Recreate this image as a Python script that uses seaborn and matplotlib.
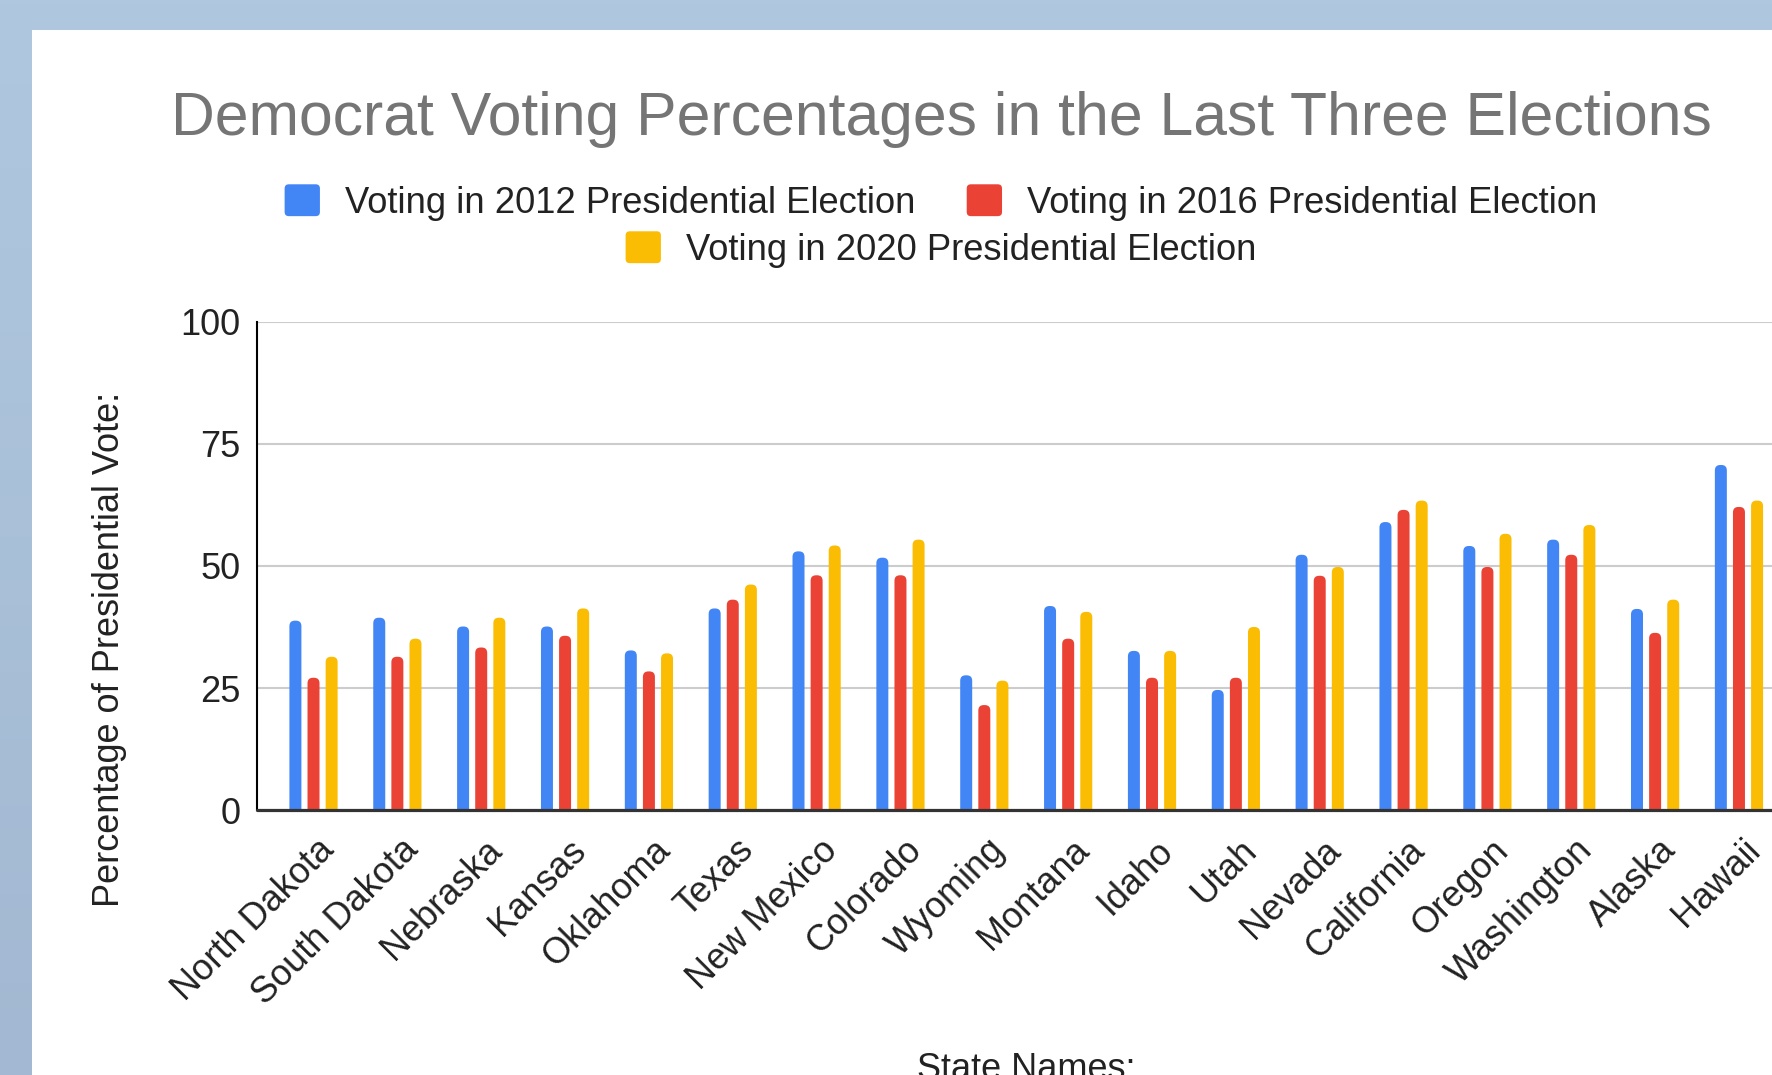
import numpy as np
import pandas as pd
import matplotlib
matplotlib.use("Agg")
import matplotlib.pyplot as plt
import seaborn as sns
from matplotlib.patches import FancyBboxPatch, Rectangle, Patch
from matplotlib.legend_handler import HandlerPatch
from matplotlib.transforms import ScaledTranslation
from matplotlib.colors import LinearSegmentedColormap

# ---------------- data ----------------
states = ["North Dakota", "South Dakota", "Nebraska", "Kansas", "Oklahoma", "Texas",
          "New Mexico", "Colorado", "Wyoming", "Montana", "Idaho", "Utah", "Nevada",
          "California", "Oregon", "Washington", "Alaska", "Hawaii"]
v2012 = [38.8, 39.4, 37.6, 37.6, 32.7, 41.3, 53.0, 51.7, 27.6, 41.8, 32.6, 24.6,
         52.3, 59.0, 54.1, 55.4, 41.2, 70.7]
v2016 = [27.1, 31.4, 33.3, 35.7, 28.4, 43.1, 48.1, 48.1, 21.5, 35.1, 27.1, 27.1,
         48.0, 61.5, 49.8, 52.3, 36.3, 62.1]
v2020 = [31.4, 35.1, 39.4, 41.3, 32.1, 46.2, 54.2, 55.4, 26.5, 40.6, 32.6, 37.5,
         49.8, 63.4, 56.6, 58.4, 43.1, 63.4]
series = ["Voting in 2012 Presidential Election",
          "Voting in 2016 Presidential Election",
          "Voting in 2020 Presidential Election"]
colors = ["#4285F4", "#EA4335", "#FBBC04"]
yticks = [0, 25, 50, 75, 100]
title = "Democrat Voting Percentages in the Last Three Elections"
ylabel = "Percentage of Presidential Vote:"
xlabel = "State Names:"

df = pd.DataFrame({
    "State": states * 3,
    "Election": [series[0]] * len(states) + [series[1]] * len(states) + [series[2]] * len(states),
    "Value": v2012 + v2016 + v2020,
})

# ---------------- figure ----------------
sns.set_theme(style="white")
plt.rcParams["font.family"] = ["Liberation Sans", "DejaVu Sans"]

W, H = 1772, 1075
fig = plt.figure(figsize=(W / 100, H / 100), dpi=100)

# background frame (light blue border, white page)
bg = fig.add_axes([0, 0, 1, 1], zorder=-10)
grad = np.linspace(0, 1, 256).reshape(-1, 1)
cmap = LinearSegmentedColormap.from_list("bgc", ["#AFC8DF", "#A3B8D2"])
bg.imshow(grad, aspect="auto", cmap=cmap, extent=[0, 1, 0, 1], origin="upper")
bg.add_patch(Rectangle((32 / W, 0), 1, 1 - 30 / H, facecolor="white", edgecolor="none"))
bg.set_xlim(0, 1)
bg.set_ylim(0, 1)
bg.axis("off")

# main axes (plot area continues past the right edge, as in the reference)
cat_px = 83.85
x_left = -0.674
x_right = 18.6
ax_left_px, ax_bottom_px, ax_h_px = 257, H - 810, 488
ax_w_px = (x_right - x_left) * cat_px
ax = fig.add_axes([ax_left_px / W, ax_bottom_px / H, ax_w_px / W, ax_h_px / H])

sns.barplot(data=df, x="State", y="Value", hue="Election", order=states,
            hue_order=series, palette=colors, width=0.648, gap=0.338,
            legend=False, ax=ax, saturation=1, errorbar=None)

ax.set_xlim(x_left, x_right)
ax.set_ylim(0, 100)

# rounded bar tops
px_x = ax_w_px / (x_right - x_left)
px_y = ax_h_px / 100.0
m = px_x / px_y
bars = list(ax.patches)
for p in bars:
    x, w, h = p.get_x(), p.get_width(), p.get_height()
    fc = p.get_facecolor()
    p.remove()
    rs = w * 0.45
    ext = 3.0
    fb = FancyBboxPatch((x, -ext), w, h + ext,
                        boxstyle=f"round,pad=0,rounding_size={rs}",
                        mutation_aspect=m, facecolor=fc, edgecolor="none",
                        zorder=2)
    ax.add_patch(fb)

# grid & spines
ax.set_yticks(yticks)
ax.set_yticklabels([str(t) for t in yticks])
ax.yaxis.grid(True, color="#cccccc", linewidth=1.5)
ax.xaxis.grid(False)
ax.set_axisbelow(True)
for s in ["top", "right", "bottom"]:
    ax.spines[s].set_visible(False)
ax.spines["left"].set_color("#000000")
ax.spines["left"].set_linewidth(1.5)
ax.axhline(0, color="#333333", linewidth=2.3, zorder=5, clip_on=False)

ax.tick_params(axis="y", length=0, pad=12, labelsize=26, labelcolor="#222222")
ax.tick_params(axis="x", length=0, pad=30, labelsize=26, labelcolor="#222222")
ax.set_xlabel("")
ax.set_ylabel("")

offset = ScaledTranslation(22.5 / 100, 0, fig.dpi_scale_trans)
for lbl in ax.get_xticklabels():
    lbl.set_rotation(45)
    lbl.set_ha("right")
    lbl.set_va("baseline")
    lbl.set_rotation_mode("anchor")
    lbl.set_transform(lbl.get_transform() + offset)

# title and axis titles
fig.text(941 / W, 1 - 135 / H, title, ha="center", va="baseline",
         fontsize=43.7, color="#757575")
fig.text(110 / W, 1 - 649 / H, ylabel, rotation=90, ha="center", va="center",
         fontsize=26, color="#222222")
fig.text(1026 / W, 1 - 1079 / H, xlabel, ha="center", va="baseline",
         fontsize=26, color="#222222")

# legend (two centered rows)
def round_patch(legend, orig_handle, xdescent, ydescent, width, height, fontsize):
    return FancyBboxPatch((-xdescent, -ydescent), width, height,
                          boxstyle="round,pad=0,rounding_size=3")

handles = [Patch(facecolor=c, edgecolor="none") for c in colors]
hmap = {Patch: HandlerPatch(patch_func=round_patch)}
common = dict(loc="center", frameon=False, fontsize=26.2, handlelength=0.97,
              handleheight=0.97, handletextpad=0.69, columnspacing=1.41,
              borderpad=0, labelcolor="#222222", handler_map=hmap)
leg1 = fig.legend(handles[:2], series[:2], ncol=2,
                  bbox_to_anchor=(941 / W, 1 - 202.5 / H), **common)
leg2 = fig.legend(handles[2:], series[2:], ncol=1,
                  bbox_to_anchor=(941 / W, 1 - 249.5 / H), **common)

fig.savefig("out.png", dpi=100)
